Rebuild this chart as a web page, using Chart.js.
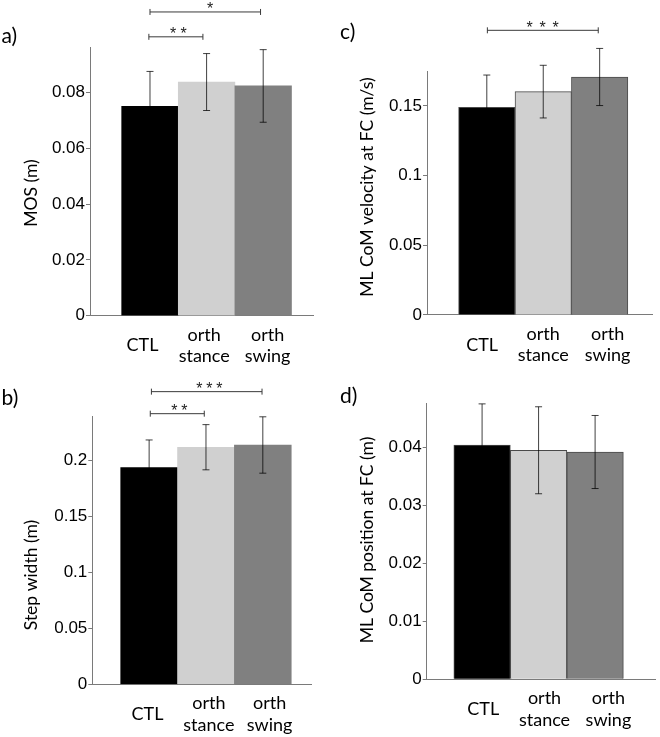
<!DOCTYPE html>
<html><head><meta charset="utf-8">
<script src="https://cdn.jsdelivr.net/npm/chart.js@4.4.1/dist/chart.umd.min.js"></script>
<style>
html,body{margin:0;padding:0;background:#fff;}
#wrap{position:relative;width:660px;height:737px;overflow:hidden;}
#wrap canvas{position:absolute;left:0;top:0;}
</style></head><body>
<div id="wrap">
<canvas id="ca" width="660" height="820"></canvas>
<canvas id="cb" width="660" height="820"></canvas>
<canvas id="cc" width="660" height="820"></canvas>
<canvas id="cd" width="660" height="820"></canvas>
</div>
<script>
// ---------- data ----------
const categories = ['CTL', ['orth', 'stance'], ['orth', 'swing']];
const barColors = ['#000000', '#d0d0d0', '#808080'];

const mosMean  = [0.0750, 0.0837, 0.0823];
const mosErr   = [0.0125, 0.0102, 0.0130];
const stepMean = [0.1937, 0.2120, 0.2140];
const stepErr  = [0.0248, 0.0202, 0.0252];
const velMean  = [0.1490, 0.1603, 0.1708];
const velErr   = [0.0232, 0.0189, 0.0205];
const posMean  = [0.0404, 0.0395, 0.0392];
const posErr   = [0.0071, 0.0075, 0.0063];

const mosTicks  = [0, 0.02, 0.04, 0.06, 0.08];
const stepTicks = [0, 0.05, 0.1, 0.15, 0.2];
const velTicks  = [0, 0.05, 0.1, 0.15];
const posTicks  = [0, 0.01, 0.02, 0.03, 0.04];

const yTitles = ['MOS (m)', 'Step width (m)', 'ML CoM velocity at FC (m/s)', 'ML CoM position at FC (m)'];
const panelLetters = ['a)', 'b)', 'c)', 'd)'];

// significance: pair of category indices and star label
const sigMos  = [{pair: [0, 1], stars: '**'}, {pair: [0, 2], stars: '*'}];
const sigStep = [{pair: [0, 1], stars: '**'}, {pair: [0, 2], stars: '***'}];
const sigVel  = [{pair: [0, 2], stars: '***'}];
const sigPos  = [];

// ---------- layout (positions / styles) ----------
const CANVAS_H = 820;
const panels = [
  {id: 'ca', means: mosMean, errs: mosErr, yTicks: mosTicks, yMax: 0.096, title: yTitles[0], letter: panelLetters[0], sig: sigMos,
   area: {l: 90, r: 313, t: 47.7, b: 315.7}, xRange: [-0.06, 3.88], labelAt: [0.868, 1.958, 3.078],
   titlePos: {x: 36.5, y: 193}, letterPos: {x: 1.5, y: 42.7}, edge: 0,
   brGeom: [{x1: 0.98, x2: 1.935, y: 0.0999, tx: 1.5}, {x1: 1.0, x2: 2.953, y: 0.1088, tx: 2.06}], pitch: 10.5},
  {id: 'cb', means: stepMean, errs: stepErr, yTicks: stepTicks, yMax: 0.2393, title: yTitles[1], letter: panelLetters[1], sig: sigStep,
   area: {l: 92.3, r: 311.7, t: 416.7, b: 684.3}, xRange: [0, 3.86], labelAt: [0.97, 2.05, 3.12],
   titlePos: {x: 36.5, y: 575}, letterPos: {x: 1.5, y: 404.5}, edge: 0,
   brGeom: [{x1: 1.02, x2: 1.97, y: 0.242, tx: 1.53}, {x1: 1.04, x2: 2.986, y: 0.2617, tx: 2.06}], pitch: 10},
  {id: 'cc', means: velMean, errs: velErr, yTicks: velTicks, yMax: 0.1746, title: yTitles[2], letter: panelLetters[2], sig: sigVel,
   area: {l: 427, r: 652.7, t: 71.7, b: 315}, xRange: [-0.06, 3.94], labelAt: [0.917, 2.0, 3.14],
   titlePos: {x: 373.3, y: 187}, letterPos: {x: 340, y: 38.5}, edge: 1,
   brGeom: [{x1: 1.01, x2: 2.975, y: 0.2043, tx: 1.99}], pitch: 13},
  {id: 'cd', means: posMean, errs: posErr, yTicks: posTicks, yMax: 0.0476, title: yTitles[3], letter: panelLetters[3], sig: sigPos,
   area: {l: 426.7, r: 655, t: 403.3, b: 679.3}, xRange: [0.02, 4.06], labelAt: [1.02, 2.105, 3.236],
   titlePos: {x: 373.3, y: 540}, letterPos: {x: 340, y: 402.5}, edge: 1,
   brGeom: [], pitch: 10}
];

const Y_W = 50, X_H = 70;
const AXIS_COLOR = '#7a7a7a';
const ERR_COLOR = 'rgba(0,0,0,0.75)';
const TEXT_FONT = 'Lato';
const NUM_FONT = 'Liberation Sans';

function fmt(v) { return String(+(+v).toFixed(4)); }

function makeDeco(p) {
  return {
    id: 'deco_' + p.id,
    afterDatasetsDraw(chart) {
      const ctx = chart.ctx, xs = chart.scales.x, ys = chart.scales.y;
      ctx.save();
      // error bars
      ctx.strokeStyle = ERR_COLOR; ctx.lineWidth = 1;
      p.means.forEach((m, i) => {
        const x = xs.getPixelForValue(i + 1);
        const yt = ys.getPixelForValue(m + p.errs[i]);
        const yb = ys.getPixelForValue(m - p.errs[i]);
        ctx.beginPath();
        ctx.moveTo(x, yt); ctx.lineTo(x, yb);
        ctx.moveTo(x - 3.5, yt); ctx.lineTo(x + 3.5, yt);
        ctx.moveTo(x - 3.5, yb); ctx.lineTo(x + 3.5, yb);
        ctx.stroke();
      });
      // significance brackets
      p.sig.forEach((s, k) => {
        const g = p.brGeom[k];
        const x1 = xs.getPixelForValue(g.x1), x2 = xs.getPixelForValue(g.x2);
        const y = ys.getPixelForValue(g.y);
        ctx.strokeStyle = '#3a3a3a'; ctx.lineWidth = 1;
        ctx.beginPath();
        ctx.moveTo(x1, y); ctx.lineTo(x2, y);
        ctx.moveTo(x1, y - 3); ctx.lineTo(x1, y + 3);
        ctx.moveTo(x2, y - 3); ctx.lineTo(x2, y + 3);
        ctx.stroke();
        ctx.fillStyle = '#222';
        ctx.font = '16px "' + NUM_FONT + '"';
        ctx.textAlign = 'center'; ctx.textBaseline = 'alphabetic';
        const cx = xs.getPixelForValue(g.tx);
        const n = s.stars.length;
        for (let i = 0; i < n; i++) {
          ctx.fillText(s.stars[i], cx + (i - (n - 1) / 2) * p.pitch, y + 2.5);
        }
      });
      ctx.restore();
    },
    afterDraw(chart) {
      const ctx = chart.ctx;
      ctx.save();
      ctx.fillStyle = '#000';
      // panel letter
      ctx.font = '21px "' + TEXT_FONT + '"';
      ctx.textAlign = 'left'; ctx.textBaseline = 'alphabetic';
      ctx.fillText(p.letter, p.letterPos.x, p.letterPos.y);
      // y-axis title
      ctx.font = '17.5px "' + TEXT_FONT + '"';
      ctx.translate(p.titlePos.x, p.titlePos.y);
      ctx.rotate(-Math.PI / 2);
      ctx.textAlign = 'center'; ctx.textBaseline = 'alphabetic';
      ctx.fillText(p.title, 0, 0);
      ctx.restore();
    }
  };
}

panels.forEach(p => {
  new Chart(document.getElementById(p.id), {
    type: 'bar',
    data: {
      datasets: [{
        data: p.means.map((m, i) => ({x: i + 1, y: m})),
        backgroundColor: barColors,
        borderColor: '#4a4a4a',
        borderWidth: p.edge,
        barPercentage: 1,
        categoryPercentage: 1
      }]
    },
    plugins: [makeDeco(p)],
    options: {
      responsive: false,
      animation: false,
      devicePixelRatio: 1,
      events: [],
      layout: {padding: {left: p.area.l - Y_W, top: p.area.t, right: 660 - p.area.r, bottom: CANVAS_H - p.area.b - X_H}},
      plugins: {legend: {display: false}, tooltip: {enabled: false}},
      scales: {
        x: {
          type: 'linear', min: p.xRange[0], max: p.xRange[1], offset: false,
          afterFit: s => { s.height = X_H; },
          afterBuildTicks: s => { s.ticks = p.labelAt.map(v => ({value: v})); },
          grid: {display: false, drawTicks: false},
          border: {display: true, color: AXIS_COLOR, width: 1},
          ticks: {
            font: {family: TEXT_FONT, size: 18, lineHeight: 1.2}, color: '#000',
            padding: 19, autoSkip: false, maxRotation: 0, minRotation: 0, crossAlign: 'center',
            callback: (v, i) => categories[i]
          }
        },
        y: {
          min: 0, max: p.yMax,
          afterFit: s => { s.width = Y_W; },
          afterBuildTicks: s => { s.ticks = p.yTicks.map(v => ({value: v})); },
          grid: {drawOnChartArea: false, drawTicks: true, tickLength: 4, color: AXIS_COLOR, lineWidth: 1},
          border: {display: true, color: AXIS_COLOR, width: 1},
          ticks: {font: {family: NUM_FONT, size: 17}, color: '#000', padding: 1, callback: v => fmt(v)}
        }
      }
    }
  });
});
</script>
</body></html>
